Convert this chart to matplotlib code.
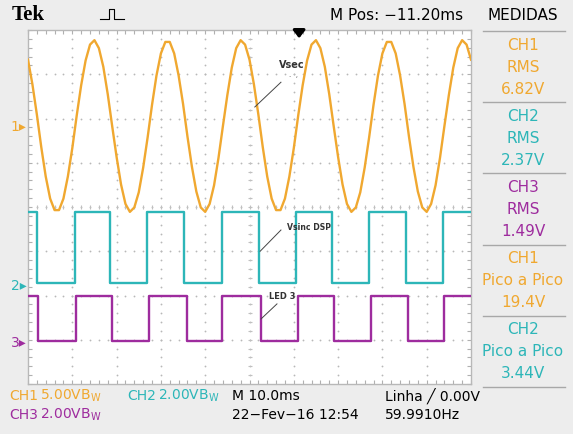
import numpy as np
import matplotlib
matplotlib.use('Agg')
import matplotlib.pyplot as plt
from matplotlib.lines import Line2D

# ------------------------------------------------------------------
# DATA
# ------------------------------------------------------------------
# time base: 10 ms/div, 10 divisions
t_ms = np.arange(0, 101, 1)
# CH1 (Vsec) in volts, one sample per ms
ch1_volts = [7.5, 4.7, 1.3, -2.4, -5.7, -8.2, -9.5, -9.5, -8.2, -5.7,
             -2.5, 1.2, 4.6, 7.4, 9.2, 9.7, 8.8, 6.7, 3.6, 0.0,
             -3.5, -6.6, -8.8, -9.7, -9.2, -7.5, -4.7, -1.3, 2.4, 5.7,
             8.2, 9.5, 9.5, 8.2, 5.7, 2.5, -1.2, -4.6, -7.4, -9.2,
             -9.7, -8.8, -6.7, -3.6, 0.0, 3.5, 6.6, 8.8, 9.7, 9.2,
             7.5, 4.7, 1.3, -2.4, -5.7, -8.2, -9.5, -9.5, -8.2, -5.7,
             -2.5, 1.2, 4.6, 7.4, 9.2, 9.7, 8.8, 6.7, 3.6, 0.0,
             -3.5, -6.6, -8.8, -9.7, -9.2, -7.5, -4.7, -1.3, 2.4, 5.7,
             8.2, 9.5, 9.5, 8.2, 5.7, 2.5, -1.2, -4.6, -7.4, -9.2,
             -9.7, -8.8, -6.7, -3.6, 0.0, 3.5, 6.6, 8.8, 9.7, 9.2, 7.5]
# CH2 (Vsinc DSP) square wave: edge times in ms, levels in volts
ch2_edges = [2.1, 10.5, 18.5, 26.9, 35.3, 43.7, 52.1, 60.5, 68.6, 77.0, 85.3, 93.7]
ch2_levels = [3.3, 0.1]   # high, low
# CH3 (LED 3) square wave
ch3_edges = [2.2, 10.8, 19.0, 27.4, 35.8, 43.8, 52.5, 61.0, 69.1, 77.4, 85.7, 93.9]
ch3_levels = [2.1, 0.05]

# channel settings: volts/div and ground position (div from bottom)
ch_scale = [5.0, 2.0, 2.0]
ch_ground = [5.83, 2.24, 0.95]
ch_color = ['#F0A830', '#2DB6B8', '#9E2C9E']

trigger_ms = 61.2

meas_ch = ['CH1', 'CH2', 'CH3', 'CH1', 'CH2']
meas_name = ['RMS', 'RMS', 'RMS', 'Pico a Pico', 'Pico a Pico']
meas_val = ['6.82V', '2.37V', '1.49V', '19.4V', '3.44V']
meas_idx = [0, 1, 2, 0, 1]

W, H = 573, 435
fam = ['DejaVu Sans']


def fx(x):
    return x / W


def fy(y):
    return 1 - y / H


def square(edges, levels, t_end=100.0):
    # starts high at t=0, toggles at every edge
    xs, ys = [0.0], [levels[0]]
    lev = 0
    for e in edges:
        xs += [e, e]
        ys += [levels[lev], levels[1 - lev]]
        lev = 1 - lev
    xs.append(t_end)
    ys.append(levels[lev])
    return np.array(xs), np.array(ys)


def main():
    fig = plt.figure(figsize=(W / 100, H / 100), dpi=100, facecolor='#EDEDED')
    ax = fig.add_axes([fx(28), 50 / H, 443 / W, 354 / H])
    ax.set_facecolor('white')
    ax.set_xlim(0, 100)
    ax.set_ylim(0, 8)

    # border ticks
    ax.set_xticks(np.arange(0, 101, 10))
    ax.set_xticks(np.arange(0, 101, 2), minor=True)
    ax.set_yticks(np.arange(0, 9, 1))
    ax.set_yticks(np.arange(0, 8.01, 0.2), minor=True)
    ax.tick_params(which='both', direction='in', length=3, width=0.8,
                   top=True, right=True, color='#B0B0B0',
                   labelbottom=False, labelleft=False)
    for s in ax.spines.values():
        s.set_color('#B8B8B8')
        s.set_linewidth(1.0)

    # dotted graticule
    gdot = dict(ls='none', marker='o', ms=1.3, color='#B8B8B8', mec='none', zorder=1)
    xd = np.arange(2, 100, 2)
    for gy in range(1, 8):
        ax.plot(xd, np.full(len(xd), gy), **gdot)
    yd = np.arange(0.2, 8, 0.2)
    for gx in range(10, 100, 10):
        ax.plot(np.full(len(yd), gx), yd, **gdot)
    # center crosshair ticks
    ax.plot(xd, np.full(len(xd), 4), ls='none', marker='|', ms=3.5, mew=0.8,
            color='#C0C0C0', zorder=1)
    ax.plot(np.full(len(yd), 50), yd, ls='none', marker='_', ms=3.5, mew=0.8,
            color='#C0C0C0', zorder=1)

    # traces
    x3, y3 = square(ch3_edges, ch3_levels)
    ax.plot(x3, ch_ground[2] + y3 / ch_scale[2], color=ch_color[2], lw=1.7, zorder=3)
    x2, y2 = square(ch2_edges, ch2_levels)
    ax.plot(x2, ch_ground[1] + y2 / ch_scale[1], color=ch_color[1], lw=1.7, zorder=3)
    ax.plot(t_ms, ch_ground[0] + np.array(ch1_volts) / ch_scale[0],
            color=ch_color[0], lw=1.7, zorder=4)

    # channel ground markers
    for i in range(3):
        ax.text(-0.3, ch_ground[i], '%d▸' % (i + 1), color=ch_color[i],
                ha='right', va='center', fontsize=10, family=fam, clip_on=False)

    # trigger position arrow
    ax.annotate('', xy=(trigger_ms, 7.75), xytext=(trigger_ms, 8.02),
                arrowprops=dict(arrowstyle='-|>,head_width=0.35,head_length=0.45',
                                color='black', lw=2.2), annotation_clip=False)

    # labels with leader lines
    lab = dict(color='#333333', fontsize=7, fontweight='bold', family='DejaVu Sans',
               va='center', ha='left', zorder=6)
    ax.text(56.7, 7.23, 'Vsec', **lab)
    ax.text(59.0, 6.97, '.  ,', color='#555555', fontsize=5, zorder=6)
    ax.plot([57.1, 51.2], [6.82, 6.26], color='#444444', lw=0.7, zorder=6)
    ax.text(58.5, 3.57, 'Vsinc DSP', **dict(lab, fontsize=5.6))
    ax.plot([57.1, 52.4], [3.48, 3.0], color='#444444', lw=0.7, zorder=6)
    ax.text(54.4, 1.99, 'LED 3', **dict(lab, fontsize=6))
    ax.plot([56.2, 52.6], [1.81, 1.47], color='#444444', lw=0.7, zorder=6)

    # top bar
    fig.text(fx(12), fy(15), 'Tek', family='Liberation Serif', fontweight='bold',
             fontsize=15, va='center', ha='left')
    icon = [(100, 20), (109, 20), (109, 10), (114, 10), (114, 20), (124, 20)]
    fig.add_artist(Line2D([fx(p[0]) for p in icon], [fy(p[1]) for p in icon],
                          color='black', lw=0.8))
    fig.text(fx(330), fy(15), 'M Pos: \u221211.20ms', family=fam, fontsize=11,
             va='center', ha='left')
    fig.text(fx(523), fy(15), 'MEDIDAS', family=fam, fontsize=11,
             va='center', ha='center')

    # measurement panel
    for k in range(6):
        yy = 32 + k * 71.2
        fig.add_artist(Line2D([fx(483), fx(565)], [fy(yy), fy(yy)],
                              color='#A8A8A8', lw=1.0))
    for k in range(5):
        y0 = 33 + k * 71.2
        c = ch_color[meas_idx[k]]
        for j, s in enumerate([meas_ch[k], meas_name[k], meas_val[k]]):
            fig.text(fx(523), fy(y0 + 12 + 22 * j), s, color=c, family=fam,
                     fontsize=11, va='center', ha='center')

    # bottom bar
    bw = r'$\mathregular{B_W}$'
    fs = 10
    fig.text(fx(9), fy(396), 'CH1', color=ch_color[0], family=fam, fontsize=fs, va='center')
    fig.text(fx(40), fy(396), '5.00V' + bw, color=ch_color[0], family=fam, fontsize=fs, va='center')
    fig.text(fx(127), fy(396), 'CH2', color=ch_color[1], family=fam, fontsize=fs, va='center')
    fig.text(fx(158), fy(396), '2.00V' + bw, color=ch_color[1], family=fam, fontsize=fs, va='center')
    fig.text(fx(9), fy(415), 'CH3', color=ch_color[2], family=fam, fontsize=fs, va='center')
    fig.text(fx(40), fy(415), '2.00V' + bw, color=ch_color[2], family=fam, fontsize=fs, va='center')
    fig.text(fx(232), fy(396), 'M 10.0ms', family=fam, fontsize=fs, va='center')
    fig.text(fx(232), fy(415), '22\u2212Fev\u221216 12:54', family=fam, fontsize=fs, va='center')
    fig.text(fx(385), fy(396), 'Linha \u2571 0.00V', family=fam, fontsize=fs, va='center')
    fig.text(fx(385), fy(415), '59.9910Hz', family=fam, fontsize=fs, va='center')

    fig.savefig('out.png', dpi=100, facecolor=fig.get_facecolor())


if __name__ == "__main__":
    main()
